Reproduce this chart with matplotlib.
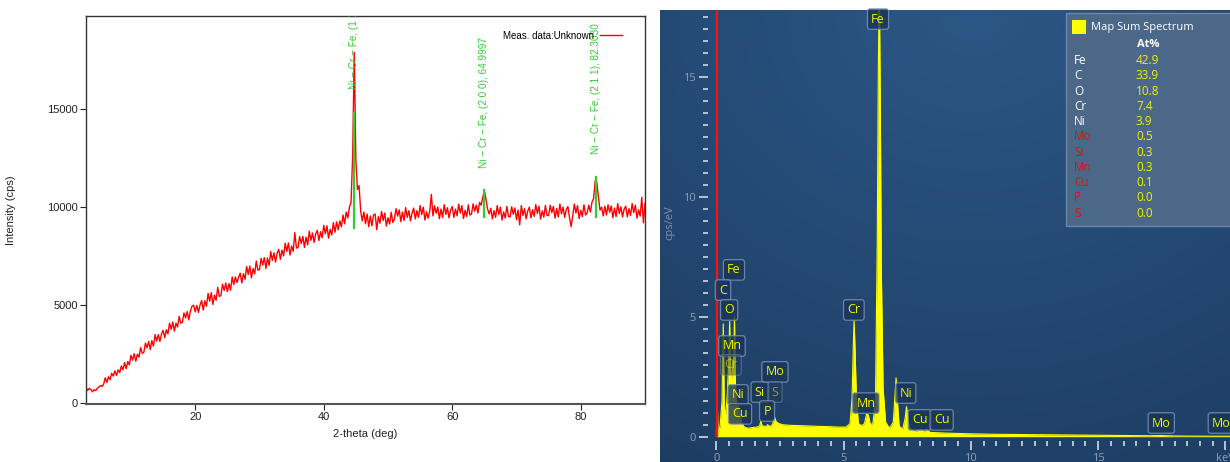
import numpy as np
import matplotlib.pyplot as plt
from matplotlib.ticker import MultipleLocator, FixedLocator

# ---- XRD データ (2θ = 3.0 から 0.25 刻み) ----
tt_start = 3.0
tt_step = 0.25
intensity = [
    820, 650, 760, 700, 580, 690, 640, 760, 820, 900, 860, 980,
    1300, 1060, 1350, 1200, 1530, 1380, 1650, 1420, 1700, 1560, 1900, 1700,
    2075, 1760, 2125, 1955, 2445, 2195, 2530, 2140, 2500, 2350, 2840, 2545,
    2590, 3070, 2830, 3150, 2740, 3190, 2910, 3500, 3170, 3500, 3150, 3535,
    3720, 3345, 3745, 3535, 4080, 3775, 4145, 3680, 4080, 3885, 4430, 4080,
    4130, 4605, 4355, 4675, 4250, 4700, 4950, 5000, 4660, 4990, 4630, 5010,
    5240, 4750, 5225, 4945, 5600, 5200, 5640, 5035, 5515, 5250, 5910, 5450,
    5490, 6070, 5750, 6130, 5690, 6100, 5760, 6440, 6050, 6440, 6150, 6430,
    6630, 6135, 6605, 6320, 6970, 6565, 7000, 6390, 6865, 6600, 7250, 6785,
    6820, 7390, 7055, 7425, 6870, 7410, 7030, 7735, 7285, 7670, 7200, 7650,
    7850, 7345, 7810, 7515, 8160, 7745, 8170, 7555, 8020, 7745, 8700, 7915,
    7940, 8500, 8150, 8510, 7945, 8470, 8075, 8770, 8310, 8685, 8200, 8635,
    8820, 8300, 8750, 8440, 9070, 8640, 9050, 8420, 8870, 8580, 9210, 8720,
    9250, 8850, 9300, 9000, 9600, 9150, 9750, 9450, 10000, 10250, 12600, 17900,
    12400, 10900, 11100, 9800, 9300, 9750, 9150, 9650, 9000, 9550, 9050, 9600,
    9650, 8850, 9520, 9180, 9780, 9320, 9700, 9040, 9460, 9140, 9740, 9220,
    9400, 9920, 9540, 9860, 9260, 9750, 9320, 9980, 9480, 9820, 9300, 9700,
    9950, 9400, 9820, 9480, 10080, 9620, 10000, 9340, 9760, 9440, 9800, 10650,
    9550, 10070, 9690, 10010, 9410, 9900, 9470, 10130, 9630, 9970, 9450, 9850,
    10030, 9480, 9900, 9560, 10160, 9700, 10080, 9420, 9840, 9520, 10120, 9600,
    9650, 10170, 9790, 10110, 9700, 10250, 10100, 10500, 10850, 10400, 9900, 9650,
    9950, 9400, 9820, 9480, 10080, 9620, 10000, 9340, 9760, 9440, 10040, 9520,
    9500, 10020, 9640, 9960, 9360, 9850, 9100, 10080, 9580, 9920, 9400, 9800,
    10000, 9450, 9870, 9530, 10130, 9670, 10050, 9390, 9810, 9490, 10090, 9570,
    9580, 10100, 9720, 10040, 9440, 9930, 9500, 10160, 9660, 10000, 9480, 9880,
    10030, 9480, 9000, 9560, 10160, 9700, 10080, 9420, 9840, 9520, 10120, 9600,
    9700, 10100, 9750, 10250, 10450, 11350, 11250, 10500, 9850, 10000, 9550, 10050,
    9600, 10120, 9740, 10060, 9460, 9950, 9520, 10180, 9680, 10020, 9500, 9900,
    10050, 9500, 9920, 9580, 10180, 9720, 10100, 9440, 9860, 9540, 10500, 9200,
    10200,
]
two_theta = tt_start + tt_step * np.arange(len(intensity))

# 相同定ピーク
peak_pos = [44.674, 64.9997, 82.3030]
peak_low = [8920, 9490, 9490]
peak_high = [14820, 10850, 11560]
peak_text_y = [16040, 12020, 12730]
peak_labels = ['Ni − Cr − Fe, (1 1 0), 44.6740',
               'Ni − Cr − Fe, (2 0 0), 64.9997',
               'Ni − Cr − Fe, (2 1 1), 82.3030']

# ---- EDS スペクトル ----
energy = [0.00, 0.02, 0.06, 0.10, 0.15, 0.22, 0.27, 0.31, 0.36, 0.42, 0.48, 0.52,
          0.56, 0.60, 0.64, 0.67, 0.71, 0.75, 0.80, 0.85, 0.90, 0.93, 1.00, 1.10,
          1.25, 1.40, 1.60, 1.70, 1.74, 1.80, 1.95, 2.01, 2.10, 2.20, 2.29, 2.35,
          2.45, 2.60, 2.80, 3.00, 3.30, 3.60, 4.00, 4.40, 4.80, 5.10, 5.25, 5.33,
          5.38, 5.41, 5.45, 5.50, 5.58, 5.70, 5.82, 5.90, 5.97, 6.05, 6.15, 6.25,
          6.32, 6.36, 6.40, 6.44, 6.48, 6.55, 6.65, 6.80, 6.95, 7.01, 7.06, 7.11,
          7.18, 7.32, 7.42, 7.47, 7.53, 7.62, 7.80, 8.04, 8.15, 8.26, 8.40, 9.00,
          10.0, 11.0, 12.0, 13.0, 14.0, 15.0, 16.0, 17.0, 17.48, 18.0, 19.0, 20.4]
cps = [0.0, 2.2, 0.3, 0.2, 0.5, 1.5, 4.7, 1.2, 0.9, 1.6, 3.0, 4.8,
       2.6, 2.4, 3.2, 2.6, 5.0, 2.2, 1.2, 1.4, 0.9, 0.95, 0.55, 0.4,
       0.35, 0.38, 0.40, 0.45, 0.65, 0.45, 0.42, 0.50, 0.42, 0.50, 0.80, 0.62,
       0.55, 0.50, 0.48, 0.47, 0.46, 0.45, 0.43, 0.42, 0.40, 0.40, 0.55, 1.6,
       3.8, 4.85, 3.6, 1.6, 0.55, 0.45, 0.55, 0.95, 0.9, 0.5, 0.55, 1.5,
       8.0, 15.0, 19.0, 14.0, 7.0, 2.0, 0.6, 0.35, 0.6, 1.6, 2.45, 1.5,
       0.45, 0.3, 0.8, 1.25, 0.7, 0.3, 0.22, 0.3, 0.2, 0.3, 0.18, 0.15,
       0.12, 0.10, 0.09, 0.08, 0.07, 0.06, 0.05, 0.04, 0.05, 0.03, 0.02, 0.02]
marker_kev = 0.04

# ピークラベル (元素, エネルギー, ラベル高さ, 薄表示)
el_names = ['Fe', 'Fe', 'C', 'O', 'Mn', 'Cr', 'Ni', 'Cu', 'Si', 'Mo', 'S', 'P',
            'Cr', 'Mn', 'Ni', 'Cu', 'Cu', 'Mo', 'Mo']
el_kev = [6.35, 0.69, 0.26, 0.50, 0.61, 0.57, 0.85, 0.93, 1.71, 2.30, 2.30, 1.99,
          5.40, 5.87, 7.44, 7.99, 8.85, 17.48, 19.84]
el_height = [17.4, 6.95, 6.11, 5.28, 3.78, 2.99, 1.74, 0.95, 1.86, 2.70, 1.86, 1.07,
             5.28, 1.40, 1.82, 0.70, 0.70, 0.57, 0.57]
el_dim = [False, False, False, False, False, True, False, False, False, False, True, False,
          False, False, False, False, False, False, False]

# 定量結果
quant_el = ['Fe', 'C', 'O', 'Cr', 'Ni', 'Mo', 'Si', 'Mn', 'Cu', 'P', 'S']
quant_at = ['42.9', '33.9', '10.8', '7.4', '3.9', '0.5', '0.3', '0.3', '0.1', '0.0', '0.0']
quant_ok = [True, True, True, True, True, False, False, False, False, False, False]

W, H = 1230, 462
fig = plt.figure(figsize=(W / 100, H / 100), dpi=100)

# ================= 左: XRD =================
arial = ['Liberation Sans', 'DejaVu Sans']
ax1 = fig.add_axes([86 / W, 1 - 404 / H, (645 - 86) / W, (404 - 16) / H])
ax1.plot(two_theta, intensity, color='#ff0000', lw=1.0, label='Meas. data:Unknown')
for x, lo, hi, ty, lab in zip(peak_pos, peak_low, peak_high, peak_text_y, peak_labels):
    ax1.plot([x, x], [lo, hi], color='#33cc33', lw=1.6)
    ax1.text(x, ty, lab, rotation=90, ha='center', va='bottom', color='#33cc33',
             fontsize=7.2, family=arial, clip_on=True)
ax1.set_xlim(3, 90)
ax1.set_ylim(-40, 19750)
ax1.set_xticks([20, 40, 60, 80])
ax1.set_yticks([0, 5000, 10000, 15000])
ax1.tick_params(direction='out', length=4, width=0.8, labelsize=8, pad=2, colors='#222222')
for lbl in ax1.get_xticklabels() + ax1.get_yticklabels():
    lbl.set_family(arial)
for s in ax1.spines.values():
    s.set_color('#333333')
    s.set_linewidth(1.0)
ax1.spines['bottom'].set_linewidth(1.5)
ax1.spines['bottom'].set_color('#555555')
ax1.set_xlabel('2-theta (deg)', fontsize=8, family=arial, color='#222222')
ax1.set_ylabel('Intensity (cps)', fontsize=8, family=arial, color='#222222')
ax1.xaxis.set_label_coords(0.5, -0.065)
ax1.yaxis.set_label_coords(-0.125, 0.5)
leg = ax1.legend(loc='upper right', bbox_to_anchor=(0.958, 0.962), markerfirst=False,
                 frameon=False, prop={'family': arial, 'size': 7}, handlelength=2.2,
                 borderpad=0, borderaxespad=0, handletextpad=0.6)

# ================= 右: EDS =================
bg = fig.add_axes([660 / W, 0, 570 / W, (H - 10) / H])
gy, gx = np.mgrid[0:1:200j, 0:1:300j]
t = np.clip(1 - np.sqrt(((gx - 0.55) / 1.1) ** 2 + (gy / 1.2) ** 2), 0, 1)
c0 = np.array([0x1d, 0x3c, 0x62]) / 255
c1 = np.array([0x2b, 0x57, 0x86]) / 255
img = c0[None, None, :] + (c1 - c0)[None, None, :] * t[:, :, None]
bg.imshow(img, extent=(660, 1230, 462, 10), aspect='auto', interpolation='bilinear')
bg.set_xlim(660, 1230)
bg.set_ylim(462, 10)
bg.axis('off')

seg = ['Open Sans', 'DejaVu Sans']
ax2 = fig.add_axes([712 / W, 1 - 436.7 / H, (W - 712) / W, (436.7 - 10) / H])
ax2.patch.set_alpha(0)
ax2.fill_between(energy, 0, cps, color='#ffff00', lw=0)
ax2.plot(energy, cps, color='#ffff00', lw=0.8)
ax2.axvline(marker_kev, color='#ff1010', lw=1.6)
ax2.set_xlim((712 - 716.4) / 25.45, (W - 716.4) / 25.45)
ax2.set_ylim(0, (436.7 - 10) / 24.0)
for s in ax2.spines.values():
    s.set_visible(False)
ax2.spines['left'].set_position(('outward', 3))
ax2.spines['bottom'].set_position(('outward', 3))
ax2.xaxis.set_major_locator(FixedLocator([0, 5, 10, 15, 20]))
ax2.xaxis.set_minor_locator(MultipleLocator(0.5))
ax2.yaxis.set_major_locator(FixedLocator([0, 5, 10, 15]))
ax2.yaxis.set_minor_locator(MultipleLocator(0.5))
ax2.set_xticklabels(['0', '5', '10', '15', 'keV'])
ax2.tick_params(which='major', direction='out', length=6.5, width=1.4, color='#b9c3d1',
                labelcolor='#8e9fb7', labelsize=8, pad=2)
ax2.tick_params(which='minor', direction='out', length=3.8, width=1.4, color='#b9c3d1')
for lbl in ax2.get_xticklabels() + ax2.get_yticklabels():
    lbl.set_family(seg)

for name, e, h, dim in zip(el_names, el_kev, el_height, el_dim):
    ax2.text(e, h, name, ha='center', va='center', fontsize=9, family=seg,
             color='#f2f200', alpha=0.55 if dim else 1.0, zorder=5,
             bbox=dict(boxstyle='round,pad=0.3,rounding_size=0.2', fc='#1a3557',
                       ec='#7d97b6', lw=0.9, alpha=0.45 if dim else 0.8))

# 凡例と定量表
ov = fig.add_axes([660 / W, 0, 570 / W, (H - 10) / H])
ov.patch.set_alpha(0)
ov.set_xlim(660, 1230)
ov.set_ylim(462, 10)
ov.axis('off')
ov.add_patch(plt.Rectangle((1066, 13), 170, 213, fc='#4f6a8a', ec='#6f89a8', lw=1.0, alpha=0.95))
ov.add_patch(plt.Rectangle((1072, 19.5), 14, 14.5, fc='#ffff00', ec='none'))
ov.text(1091, 27, 'Map Sum Spectrum', fontsize=8, family=seg, color='white', va='center')
ov.text(1137, 44.5, 'At%', fontsize=8, family=seg, color='white', va='center', weight='bold')
for i, (el, at, ok) in enumerate(zip(quant_el, quant_at, quant_ok)):
    y = 60.7 + i * 15.25
    ov.text(1074, y, el, fontsize=8.5, family=seg, va='center',
            color='white' if ok else '#e01010')
    ov.text(1136, y, at, fontsize=8.5, family=seg, va='center', color='#f0f000')
ov.text(670, 223, 'cps/eV', rotation=90, fontsize=8, family=seg, color='#7f93ad',
        ha='center', va='center')

fig.savefig('out.png', dpi=100)
